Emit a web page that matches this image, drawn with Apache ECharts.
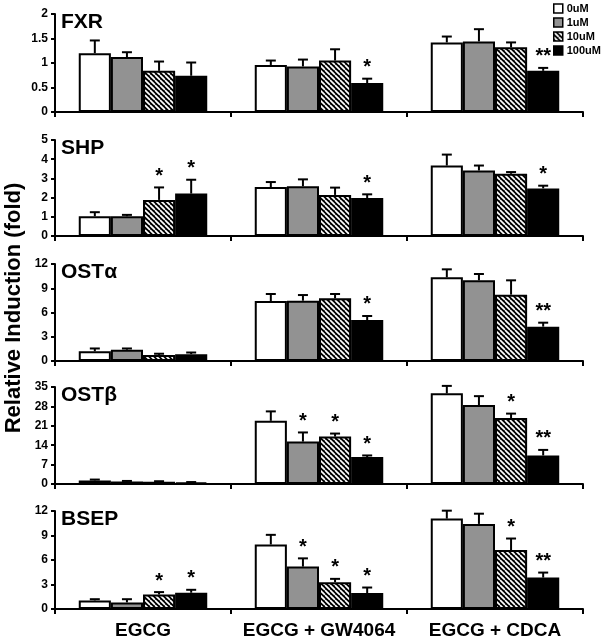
<!DOCTYPE html>
<html>
<head>
<meta charset="utf-8">
<script src="https://cdn.jsdelivr.net/npm/echarts@6/dist/echarts.min.js"></script>
<style>
html,body{margin:0;padding:0;background:#fff;}
#chart{width:602px;height:641px;}
</style>
</head>
<body>
<div id="chart"></div>
<script>
// ---- data ----
const categories = ['EGCG', 'EGCG + GW4064', 'EGCG + CDCA'];
const doses = ['0uM', '1uM', '10uM', '100uM'];
const geneNames = ['FXR', 'SHP', 'OSTα', 'OSTβ', 'BSEP'];
const axisMax = [2, 5, 12, 35, 12];
const axisStep = [0.5, 1, 3, 7, 3];

// rows = doses (0,1,10,100 uM); columns = categories
const fxrMean = [[1.20, 0.96, 1.42], [1.12, 0.93, 1.44], [0.84, 1.05, 1.32], [0.74, 0.59, 0.84]];
const fxrErr  = [[0.26, 0.09, 0.12], [0.10, 0.14, 0.25], [0.19, 0.23, 0.10], [0.27, 0.09, 0.06]];
const fxrSig  = [[0, 0, 0], [0, 0, 0], [0, 0, 0], [0, 1, 2]];

const shpMean = [[1.03, 2.55, 3.67], [1.03, 2.59, 3.41], [1.88, 2.14, 3.24], [2.21, 1.98, 2.48]];
const shpErr  = [[0.21, 0.26, 0.57], [0.07, 0.36, 0.26], [0.65, 0.38, 0.09], [0.72, 0.19, 0.14]];
const shpSig  = [[0, 0, 0], [0, 0, 0], [1, 0, 0], [1, 1, 1]];

const ostaMean = [[1.20, 7.42, 10.35], [1.40, 7.46, 9.98], [0.75, 7.75, 8.21], [0.85, 5.07, 4.25]];
const ostaErr  = [[0.35, 0.87, 0.99], [0.15, 0.70, 0.78], [0.15, 0.54, 1.77], [0.20, 0.50, 0.49]];
const ostaSig  = [[0, 0, 0], [0, 0, 0], [0, 0, 0], [0, 1, 2]];

const ostbMean = [[1.3, 22.8, 32.7], [0.9, 15.3, 28.5], [0.8, 17.1, 23.8], [0.6, 9.7, 10.3]];
const ostbErr  = [[0.3, 3.4, 2.7], [0.2, 3.3, 3.2], [0.2, 1.1, 1.6], [0.1, 0.6, 2.0]];
const ostbSig  = [[0, 0, 0], [0, 1, 0], [0, 1, 1], [0, 1, 2]];

const bsepMean = [[1.05, 7.90, 11.07], [0.81, 5.19, 10.42], [1.78, 3.28, 7.22], [1.99, 1.95, 3.85]];
const bsepErr  = [[0.15, 1.18, 0.97], [0.39, 1.01, 1.25], [0.29, 0.41, 1.41], [0.36, 0.68, 0.61]];
const bsepSig  = [[0, 0, 0], [0, 1, 0], [1, 1, 1], [1, 1, 2]];

const means = [fxrMean, shpMean, ostaMean, ostbMean, bsepMean];
const errs = [fxrErr, shpErr, ostaErr, ostbErr, bsepErr];
const sigs = [fxrSig, shpSig, ostaSig, ostbSig, bsepSig];

// ---- layout / style ----
const FONT = "'Liberation Sans', Arial, sans-serif";
const gridTops = [14, 140, 264, 387, 511];
const gridHeights = [98, 96, 97, 97, 98];
const GAP = 0.27;

const hatch = document.createElement('canvas');
hatch.width = 5; hatch.height = 5;
(function () {
  const c = hatch.getContext('2d');
  c.fillStyle = '#000'; c.fillRect(0, 0, 5, 5);
  c.strokeStyle = '#fff'; c.lineWidth = 1.7;
  [-5, 0, 5].forEach(function (k) { c.beginPath(); c.moveTo(k, 0); c.lineTo(k + 5, 5); c.stroke(); });
})();
const fills = ['#ffffff', '#929292', { image: hatch, repeat: 'repeat' }, '#000000'];

const grids = [], xAxes = [], yAxes = [], series = [], titles = [];
geneNames.forEach(function (g, gi) {
  grids.push({ left: 55, right: 19, top: gridTops[gi], height: gridHeights[gi] });
  const last = gi === geneNames.length - 1;
  xAxes.push({
    type: 'category', gridIndex: gi, data: categories,
    axisLine: { lineStyle: { color: '#000', width: 2 } },
    axisTick: { show: true, length: 5, lineStyle: { color: '#000', width: 2 } },
    axisLabel: { show: last, interval: 0, color: '#000', fontFamily: FONT, fontWeight: 'bold', fontSize: 19, margin: 12 }
  });
  yAxes.push({
    type: 'value', gridIndex: gi, min: 0, max: axisMax[gi], interval: axisStep[gi],
    splitLine: { show: false },
    axisLine: { show: true, lineStyle: { color: '#000', width: 2 } },
    axisTick: { show: true, length: 4, lineStyle: { color: '#000', width: 2 } },
    axisLabel: { color: '#000', fontFamily: FONT, fontWeight: 'bold', fontSize: 12, margin: 7 }
  });
  titles.push({
    text: g, left: 61, top: gridTops[gi] - 2, padding: 0,
    textStyle: { fontFamily: FONT, fontWeight: 'bold', fontSize: 21, color: '#000' }
  });
  doses.forEach(function (d, di) {
    series.push({
      type: 'bar', name: d, xAxisIndex: gi, yAxisIndex: gi,
      data: means[gi][di], barGap: '0%', barCategoryGap: (GAP * 100) + '%',
      itemStyle: { color: fills[di], borderColor: '#000', borderWidth: 2 },
      emphasis: { disabled: true }, animation: false
    });
  });
  const cdata = [];
  doses.forEach(function (d, di) {
    categories.forEach(function (c, ci) {
      cdata.push([ci, means[gi][di][ci], errs[gi][di][ci], di, sigs[gi][di][ci]]);
    });
  });
  series.push({
    type: 'custom', xAxisIndex: gi, yAxisIndex: gi, data: cdata, z: 5, clip: false,
    encode: { x: 0, y: 1 }, animation: false, silent: true,
    renderItem: function (params, api) {
      const c = api.value(0), m = api.value(1), e = api.value(2), s = api.value(3), sig = api.value(4);
      const base = api.coord([c, 0]);
      const band = api.size([1, 0])[0];
      const bw = band * (1 - GAP) / 4;
      const cx = base[0] - 2 * bw + (s + 0.5) * bw;
      const yM = api.coord([c, m])[1];
      const yT = api.coord([c, m + e])[1];
      const st = { stroke: '#000', lineWidth: 2 };
      const ch = [
        { type: 'line', shape: { x1: cx, y1: yM, x2: cx, y2: yT }, style: st },
        { type: 'line', shape: { x1: cx - 5, y1: yT, x2: cx + 5, y2: yT }, style: st }
      ];
      if (sig > 0) {
        ch.push({
          type: 'text',
          style: {
            x: cx, y: yT - 1, text: sig === 2 ? '**' : '*', align: 'center', verticalAlign: 'bottom',
            font: 'bold 20px ' + FONT, fill: '#000'
          }
        });
      }
      return { type: 'group', children: ch };
    }
  });
});

const chart = echarts.init(document.getElementById('chart'), null, { renderer: 'canvas' });
chart.setOption({
  animation: false,
  backgroundColor: '#fff',
  title: titles,
  grid: grids,
  xAxis: xAxes,
  yAxis: yAxes,
  legend: {
    data: doses, orient: 'vertical', left: 553, top: 2, padding: 0,
    itemWidth: 9, itemHeight: 9, itemGap: 1, icon: 'rect',
    itemStyle: { borderColor: '#000', borderWidth: 1.5 },
    textStyle: { fontFamily: FONT, fontWeight: 'bold', fontSize: 11, color: '#000', lineHeight: 13, padding: [0, 0, 0, -1] }
  },
  graphic: [{
    type: 'text', x: 14, y: 308, rotation: Math.PI / 2,
    style: { text: 'Relative Induction (fold)', font: 'bold 22px ' + FONT, fill: '#000', align: 'center', verticalAlign: 'middle' }
  }],
  series: series
});
</script>
</body>
</html>
